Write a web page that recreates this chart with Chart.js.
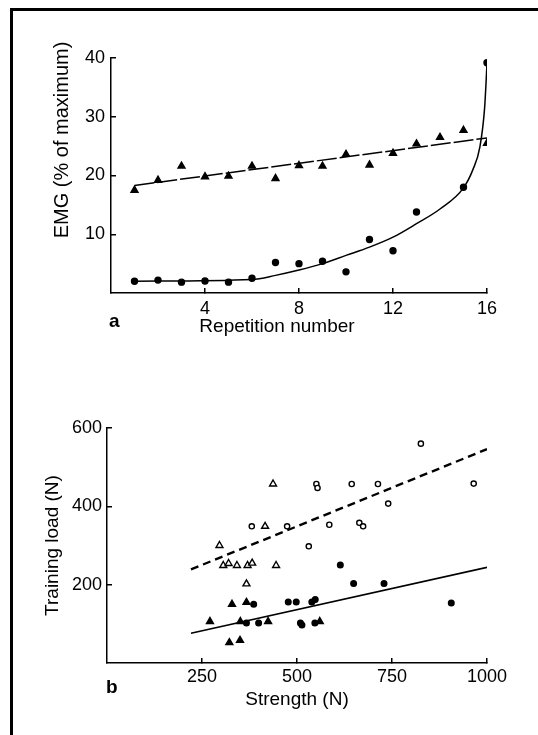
<!DOCTYPE html>
<html>
<head>
<meta charset="utf-8">
<title>EMG and training load</title>
<script src="https://cdn.jsdelivr.net/npm/chart.js@4/dist/chart.umd.min.js"></script>
<style>
  body { margin: 0; background: #fff; }
  #frame { position: absolute; left: 10px; top: 8px; width: 528px; height: 727px; border-top: 3px solid #000; border-left: 3px solid #000; box-sizing: border-box; }
  .box { position: absolute; left: 0; width: 538px; }
</style>
</head>
<body>
<div id="frame"></div>
<div class="box" style="top:0;height:370px"><canvas id="chartA"></canvas></div>
<div class="box" style="top:370px;height:365px"><canvas id="chartB"></canvas></div>
<script>
// panel a: EMG (% of maximum) against repetition number
const triReps = [1, 2, 3, 4, 5, 6, 7, 8, 9, 10, 11, 12, 13, 14, 15, 16];
const triEmg = [17.5, 19.2, 21.6, 19.8, 19.9, 21.6, 19.5, 21.7, 21.6, 23.6, 21.8, 23.8, 25.4, 26.5, 27.7, 25.5];
const dotReps = [1, 2, 3, 4, 5, 6, 7, 8, 9, 10, 11, 12, 13, 15, 16];
const dotEmg = [2.0, 2.2, 1.85, 2.05, 1.85, 2.5, 5.2, 5.0, 5.4, 3.6, 9.1, 7.2, 13.8, 18.0, 39.2];
// fitted lines
const triFitReps = [1, 16];
const triFitEmg = [18.3, 26.4];
const dotFitReps = [1, 6, 7, 8, 9, 10, 11, 12, 13, 14, 15, 15.4, 15.7, 15.9, 16];
const dotFitEmg = [2.0, 2.3, 3.0, 3.9, 5.0, 6.4, 7.8, 9.5, 11.8, 14.3, 17.9, 21, 24.9, 31.6, 39];
const repTicks = [4, 8, 12, 16];
const emgTicks = [10, 20, 30, 40];

// panel b: training load against strength
const openTriStrength = [437, 416, 296, 306, 320, 342, 370, 382, 445, 367];
const openTriLoad = [457, 349, 300, 249, 254, 249, 249, 255, 249, 202];
const openDotStrength = [381, 474, 531, 551, 554, 585, 644, 664, 674, 713, 740, 826, 965];
const openDotLoad = [349, 349, 298, 457, 447, 353, 457, 358, 349, 457, 407, 560, 458];
const fullTriStrength = [271, 329, 367, 351, 424, 322, 350, 560];
const fullTriLoad = [106, 150, 155, 106, 106, 52, 58, 106];
const fullDotStrength = [386, 367, 399, 477, 498, 539, 548, 509, 513, 547, 614, 649, 729, 906];
const fullDotLoad = [150, 102, 102, 156, 156, 156, 162, 102, 97, 102, 250, 203, 203, 153];
const upperFitStrength = [221, 1000];
const upperFitLoad = [239, 546];
const lowerFitStrength = [221, 1000];
const lowerFitLoad = [76, 244];
const strengthTicks = [250, 500, 750, 1000];
const loadTicks = [200, 400, 600];

const FONT = "'Liberation Sans', Arial, sans-serif";
Chart.defaults.font.family = FONT;
Chart.defaults.font.size = 18;
Chart.defaults.color = '#000';

function toPoints(xs, ys) {
    return xs.map((x, i) => ({ x: x, y: ys[i] }));
}

function markers(xs, ys, style, radius, filled) {
    return {
        data: toPoints(xs, ys),
        showLine: false,
        pointStyle: style,
        pointRadius: radius,
        pointHoverRadius: radius,
        pointBorderWidth: 1.4,
        pointBorderColor: '#000',
        pointBackgroundColor: filled ? '#000' : '#fff',
    };
}

function fitLine(xs, ys, width, dash, curved) {
    return {
        data: toPoints(xs, ys),
        showLine: true,
        pointRadius: 0,
        borderColor: '#000',
        borderWidth: width,
        borderDash: dash,
        cubicInterpolationMode: curved ? 'monotone' : 'default',
    };
}

// one axis with inward tick marks and a fixed box size
function axis(min, max, tickList, title, boxSize, tickPad, titlePad, horizontal) {
    return {
        type: 'linear',
        min: min,
        max: max,
        afterBuildTicks: (s) => { s.ticks = tickList.map(v => ({ value: v })); },
        afterFit: (s) => {
            if (horizontal) s.height = boxSize; else s.width = boxSize;
        },
        ticks: { padding: tickPad, callback: (v) => String(v), maxRotation: 0, autoSkip: false },
        grid: { drawOnChartArea: false, drawTicks: true, tickLength: -5, color: '#000', lineWidth: 1.5 },
        border: { display: true, color: '#000', width: 1.5 },
        title: { display: title !== null, text: title || '', padding: titlePad, font: { size: 19 } },
    };
}

// loose text: panel letters and the panel a titles, which sit off centre in the original
const freeText = {
    id: 'freeText',
    afterDraw(chart, args, opts) {
        const ctx = chart.ctx;
        opts.items.forEach((t) => {
            ctx.save();
            ctx.font = (t.bold ? 'bold ' : '') + t.size + 'px ' + FONT;
            ctx.fillStyle = '#000';
            ctx.textAlign = t.bold ? 'left' : 'center';
            ctx.textBaseline = t.bold ? 'alphabetic' : 'middle';
            ctx.translate(t.x, t.y);
            if (t.rotate) ctx.rotate(-Math.PI / 2);
            ctx.fillText(t.text, 0, 0);
            ctx.restore();
        });
    }
};

const chartA = new Chart(document.getElementById('chartA'), {
    type: 'scatter',
    data: {
        datasets: [
            markers(triReps, triEmg, 'triangle', 4, true),
            markers(dotReps, dotEmg, 'circle', 3, true),
            fitLine(triFitReps, triFitEmg, 1.5, [20, 3], false),
            fitLine(dotFitReps, dotFitEmg, 1.5, [], true),
        ],
    },
    options: {
        responsive: true,
        maintainAspectRatio: false,
        animation: false,
        layout: { padding: { left: 0, right: 51, top: 58, bottom: 0 } },
        scales: {
            x: axis(0, 16, repTicks, null, 77, 10, 0, true),
            y: axis(0, 40, emgTicks, null, 111, 11, 0, false),
        },
        plugins: {
            legend: { display: false },
            tooltip: { enabled: false },
            freeText: {
                items: [
                    { text: 'a', x: 109, y: 327, size: 19, bold: true },
                    { text: 'Repetition number', x: 277, y: 327, size: 19 },
                    { text: 'EMG (% of maximum)', x: 62, y: 140, size: 20, rotate: true },
                ],
            },
        },
    },
    plugins: [freeText],
});

const chartB = new Chart(document.getElementById('chartB'), {
    type: 'scatter',
    data: {
        datasets: [
            markers(openTriStrength, openTriLoad, 'triangle', 4, false),
            markers(openDotStrength, openDotLoad, 'circle', 2.6, false),
            markers(fullTriStrength, fullTriLoad, 'triangle', 4, true),
            markers(fullDotStrength, fullDotLoad, 'circle', 2.8, true),
            fitLine(upperFitStrength, upperFitLoad, 2.4, [8, 5], false),
            fitLine(lowerFitStrength, lowerFitLoad, 1.7, [], false),
        ],
    },
    options: {
        responsive: true,
        maintainAspectRatio: false,
        animation: false,
        layout: { padding: { left: 0, right: 51, top: 58, bottom: 0 } },
        scales: {
            x: axis(0, 1000, strengthTicks, 'Strength (N)', 72, 8, { top: 0, bottom: 24 }, true),
            y: axis(0, 600, loadTicks, 'Training load (N)', 107, 10, { top: 41, bottom: 0 }, false),
        },
        plugins: {
            legend: { display: false },
            tooltip: { enabled: false },
            freeText: {
                items: [
                    { text: 'b', x: 106, y: 323, size: 19, bold: true },
                ],
            },
        },
    },
    plugins: [freeText],
});
</script>
</body>
</html>
